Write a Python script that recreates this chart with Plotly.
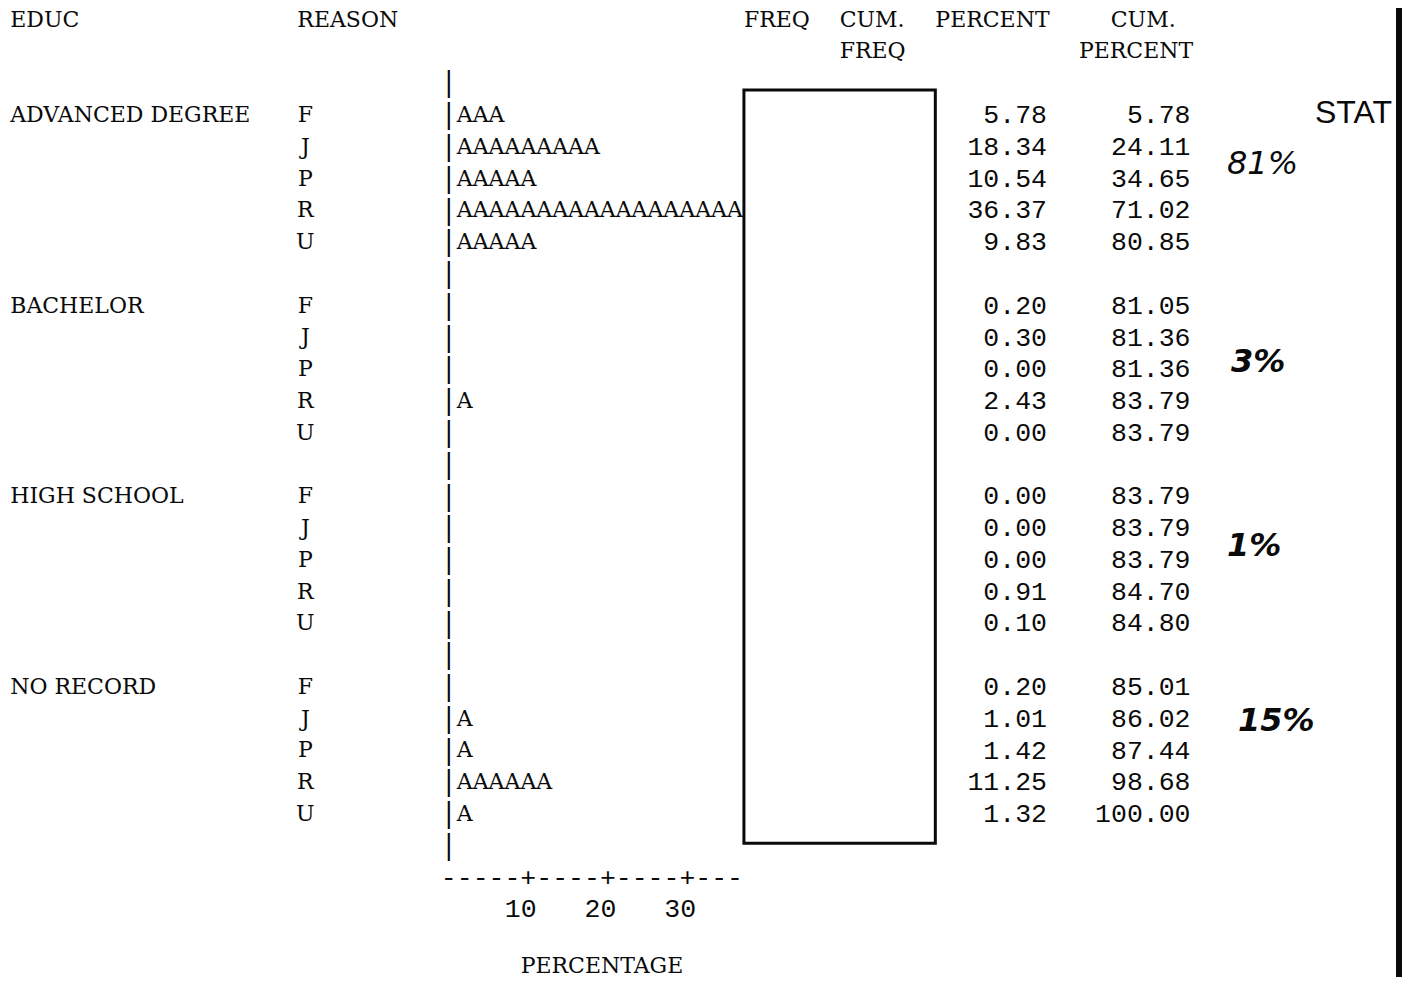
import plotly.graph_objects as go

# ---------------- data ----------------
educ_levels = ["ADVANCED DEGREE", "BACHELOR", "HIGH SCHOOL", "NO RECORD"]
reasons = ["F", "J", "P", "R", "U"]
percent = [
    [5.78, 18.34, 10.54, 36.37, 9.83],
    [0.20, 0.30, 0.00, 2.43, 0.00],
    [0.00, 0.00, 0.00, 0.91, 0.10],
    [0.20, 1.01, 1.42, 11.25, 1.32],
]
cum_percent = [
    [5.78, 24.11, 34.65, 71.02, 80.85],
    [81.05, 81.36, 81.36, 83.79, 83.79],
    [83.79, 83.79, 83.79, 84.70, 84.80],
    [85.01, 86.02, 87.44, 98.68, 100.00],
]
axis_ticks = [10, 20, 30]
axis_max = 36
axis_label = "PERCENTAGE"
bar_symbol = "A"
pct_per_char = 2
notes = ["81%", "3%", "1%", "15%"]
stamp = "STAT"

# ---------------- layout grid (character cells / printed lines) ----------------
# the page body adds an 8px margin on every side; keep the figure inside the window
PAGE_W, PAGE_H, BODY = 1410, 985, 8
W, H = PAGE_W - 2 * BODY, PAGE_H - 2 * BODY
CELL_PX, X0_PX = 15.95, 18.2
LINE_PX, Y0_PX = 31.77, 19.7
TEXT_DY = 1.5 / LINE_PX          # small baseline nudge for the printed text
SERIF = "DejaVu Serif"
MONO = "Liberation Mono"
INK = "#0a0a0a"

X_LO = (BODY - X0_PX) / CELL_PX
X_HI = (BODY + W - X0_PX) / CELL_PX
Y_LO = (BODY - Y0_PX) / LINE_PX
Y_HI = (BODY + H - Y0_PX) / LINE_PX

COL_EDUC, COL_REASON, COL_AXIS = 0, 18, 27
COL_PCT_END, COL_CUM_END = 64, 73
FIRST_ROW, GROUP_ROWS = 3, 6

headers = [("EDUC", 0, 0), ("REASON", 18, 0), ("FREQ", 46, 0), ("CUM.", 52, 0),
           ("FREQ", 52, 1), ("PERCENT", 58, 0), ("CUM.", 69, 0), ("PERCENT", 67, 1)]

n_rows = len(educ_levels) * GROUP_ROWS
last_row = FIRST_ROW + n_rows - 1
axis_row = last_row + 1
tick_row = axis_row + 1
label_row = tick_row + 2 - 0.2   # kept inside the window

fig = go.Figure()


def text_trace(x, y, t, pos, family, size):
    return go.Scatter(x=x, y=[v + TEXT_DY for v in y], text=t, mode="text", textposition=pos,
                      textfont=dict(family=family, size=size, color=INK),
                      hoverinfo="skip", cliponaxis=False)


# left aligned serif text: headers, educ labels, axis title
lx, ly, lt = [], [], []
for t, c, r in headers:
    lx.append(c - 0.5); ly.append(r); lt.append(t)
for g, e in enumerate(educ_levels):
    lx.append(COL_EDUC - 0.5); ly.append(FIRST_ROW + g * GROUP_ROWS); lt.append(e)
lx.append(COL_AXIS + 5 - 0.5); ly.append(label_row); lt.append(axis_label)
fig.add_trace(text_trace(lx, ly, lt, "middle right", SERIF, 22))

# reasons, bars of "A" characters and numbers
rx, ry, rt = [], [], []
bx, by, bt = [], [], []
nx, ny, nt = [], [], []
for g in range(len(educ_levels)):
    for i, rs in enumerate(reasons):
        row = FIRST_ROW + g * GROUP_ROWS + i
        rx.append(COL_REASON); ry.append(row); rt.append(rs)
        n = int(percent[g][i] / pct_per_char + 0.5)
        if n > 0:
            bx.append(COL_AXIS + 0.5); by.append(row); bt.append(bar_symbol * n)
        nx.append(COL_PCT_END + 0.5); ny.append(row); nt.append(f"{percent[g][i]:.2f}")
        nx.append(COL_CUM_END + 0.5); ny.append(row); nt.append(f"{cum_percent[g][i]:.2f}")

fig.add_trace(text_trace(rx, ry, rt, "middle center", SERIF, 22))
fig.add_trace(text_trace(bx, by, bt, "middle right", SERIF, 22))
fig.add_trace(text_trace(nx, ny, nt, "middle left", MONO, 26.5))

# vertical axis of pipes
prow = list(range(FIRST_ROW - 1, last_row + 1))
fig.add_trace(text_trace([COL_AXIS] * len(prow), prow, ["|"] * len(prow), "middle center", SERIF, 27))

# horizontal percentage axis built from the tick values
axis_str = "".join("+" if (k * pct_per_char) in axis_ticks else "-"
                   for k in range(axis_max // pct_per_char + 1))
fig.add_trace(text_trace([COL_AXIS - 0.5], [axis_row], [axis_str], "middle right", MONO, 26.5))
fig.add_trace(text_trace([COL_AXIS + t / pct_per_char + 0.5 for t in axis_ticks],
                         [tick_row] * len(axis_ticks), [str(t) for t in axis_ticks],
                         "middle left", MONO, 26.5))

# handwritten notes (one per education group) and stamp
note_pos = [(78.0, 4.5), (77.7, 10.75), (77.5, 16.55), (78.9, 22.05)]
note_weight = ["normal", "bold", "bold", "bold"]
for txt, (cx, cy), wt in zip(notes, note_pos, note_weight):
    fig.add_annotation(x=cx, y=cy, text=txt, showarrow=False, xanchor="center", yanchor="middle",
                       font=dict(family="DejaVu Sans", size=32, color=INK, style="italic", weight=wt))
fig.add_annotation(x=81.2, y=2.9, text=stamp, showarrow=False, xanchor="left", yanchor="middle",
                   font=dict(family="Liberation Sans", size=32, color=INK))

# frame box over FREQ columns and the page edge bar
fig.add_shape(type="rect", x0=45.5, x1=57.5, y0=2.21, y1=25.92,
              line=dict(color=INK, width=3), fillcolor="rgba(0,0,0,0)")
fig.add_shape(type="rect", x0=X_HI - 6 / CELL_PX, x1=X_HI,
              y0=0, y1=1, xref="x", yref="paper", line=dict(width=0), fillcolor=INK)

fig.update_layout(
    width=W, height=H, margin=dict(l=0, r=0, t=0, b=0),
    paper_bgcolor="white", plot_bgcolor="white", showlegend=False,
    xaxis=dict(range=[X_LO, X_HI], visible=False, fixedrange=True),
    yaxis=dict(range=[Y_HI, Y_LO], visible=False, fixedrange=True),
)

fig.write_html("out.html")
